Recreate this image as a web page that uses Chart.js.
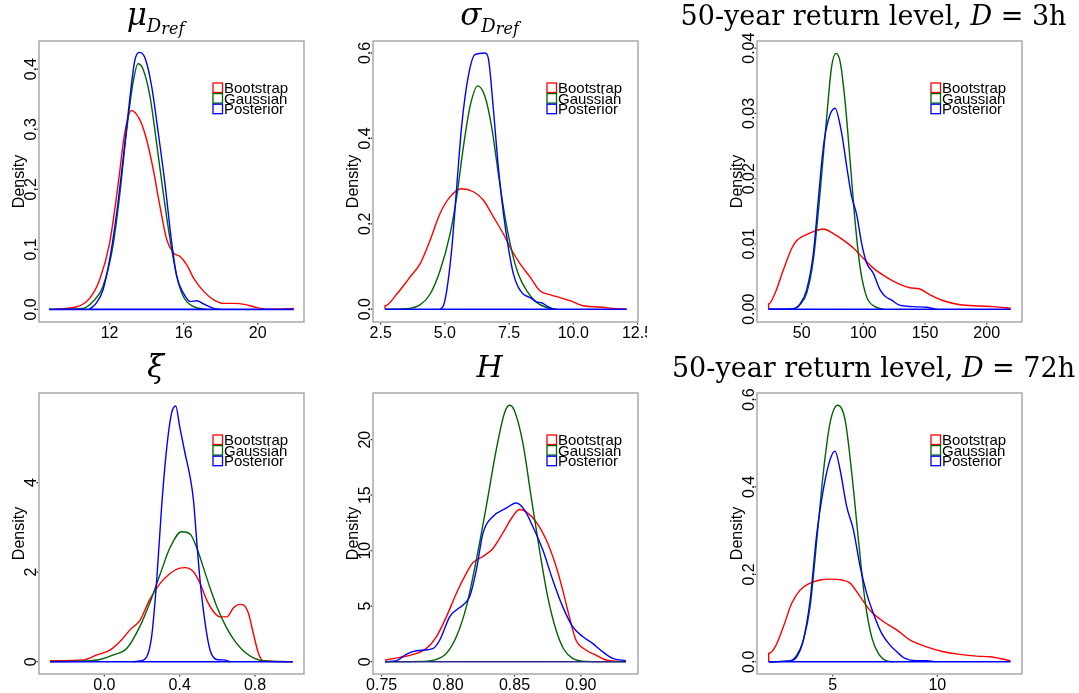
<!DOCTYPE html>
<html lang="en">
<head>
<meta charset="UTF-8">
<title>Density comparison</title>
<script src="https://cdn.jsdelivr.net/npm/chart.js"></script>
<style>
  * { margin: 0; padding: 0; box-sizing: border-box; }
  body { width: 1079px; height: 693px; background: #fff; position: relative; overflow: hidden; }
  canvas { position: absolute; }
</style>
</head>
<body>
<canvas id="pMu"></canvas>
<canvas id="pSigma"></canvas>
<canvas id="pRl3"></canvas>
<canvas id="pXi"></canvas>
<canvas id="pH"></canvas>
<canvas id="pRl72"></canvas>

<script>
// ---- data ----
const seriesNames = ['Bootstrap', 'Gaussian', 'Posterior'];

// mu_Dref
const muBootX = [8.73, 10.19, 10.91, 11.46, 12.0, 12.45, 12.82, 13.18, 13.63, 14.0, 14.36, 14.72, 15.09, 15.45, 15.81, 16.17, 16.54, 17.08, 17.63, 18.17, 18.71, 19.35, 19.89, 20.53, 21.26, 21.95];
const muBootY = [0, 0.004, 0.018, 0.049, 0.11, 0.205, 0.294, 0.331, 0.316, 0.283, 0.233, 0.172, 0.116, 0.094, 0.088, 0.074, 0.052, 0.03, 0.016, 0.010, 0.010, 0.008, 0.0035, 0.0005, 0.0005, 0.0017];
const muGaussX = [8.73, 10.55, 11.09, 11.64, 12.18, 12.54, 12.91, 13.27, 13.54, 13.81, 14.18, 14.54, 14.9, 15.27, 15.63, 15.99, 16.54, 17.26];
const muGaussY = [0, 0.0017, 0.0128, 0.038, 0.105, 0.188, 0.294, 0.378, 0.409, 0.4, 0.355, 0.277, 0.194, 0.116, 0.055, 0.021, 0.0045, 0];
const muPostX = [10.91, 11.27, 11.64, 12.0, 12.36, 12.73, 13.09, 13.36, 13.6, 13.91, 14.27, 14.63, 14.99, 15.36, 15.63, 15.99, 16.36, 16.72, 17.08, 17.63, 17.99];
const muPostY = [0, 0.01, 0.032, 0.082, 0.155, 0.25, 0.35, 0.414, 0.428, 0.419, 0.372, 0.294, 0.21, 0.11, 0.055, 0.027, 0.013, 0.0145, 0.009, 0.0017, 0];
const muBaseX = [8.73, 21.95];

// sigma_Dref
const sigBootX = [2.67, 2.67, 3.12, 3.64, 4.03, 4.42, 4.81, 5.20, 5.65, 6.11, 6.50, 6.89, 7.28, 7.54, 7.93, 8.32, 8.70, 9.09, 9.48, 9.87, 10.39, 11.04, 11.69, 12.08];
const sigBootY = [0, 0.008, 0.035, 0.075, 0.106, 0.161, 0.224, 0.263, 0.282, 0.275, 0.255, 0.216, 0.176, 0.145, 0.106, 0.075, 0.043, 0.034, 0.027, 0.02, 0.008, 0.005, 0.001, 0];
const sigGaussX = [2.67, 3.64, 4.03, 4.42, 4.81, 5.20, 5.46, 5.72, 5.98, 6.28, 6.56, 6.82, 7.08, 7.34, 7.60, 7.86, 8.19, 8.57, 8.96, 9.35];
const sigGaussY = [0, 0.002, 0.01, 0.035, 0.09, 0.176, 0.263, 0.38, 0.475, 0.523, 0.498, 0.427, 0.318, 0.216, 0.137, 0.082, 0.043, 0.016, 0.004, 0];
const sigPostX = [4.81, 4.94, 5.07, 5.26, 5.46, 5.65, 5.91, 6.17, 6.56, 6.69, 6.89, 7.08, 7.28, 7.47, 7.67, 7.86, 8.06, 8.32, 8.57, 8.77, 8.96, 9.22];
const sigPostY = [0, 0.008, 0.043, 0.137, 0.286, 0.427, 0.545, 0.596, 0.6, 0.588, 0.467, 0.333, 0.224, 0.145, 0.082, 0.051, 0.035, 0.027, 0.017, 0.015, 0.008, 0];
const sigBaseX = [2.67, 12.08];

// 50-year return level, D = 3h
const rl3BootX = [23.2, 23.2, 28.4, 35.1, 41.9, 45.9, 51.4, 59.5, 67.6, 75.7, 83.8, 91.9, 100.0, 108.1, 118.9, 129.7, 137.8, 145.9, 154.1, 164.9, 178.4, 194.6, 205.4, 219.5];
const rl3BootY = [0, 0.0008, 0.00245, 0.006, 0.0093, 0.0105, 0.0112, 0.0119, 0.0123, 0.0116, 0.0106, 0.0094, 0.0078, 0.0063, 0.0049, 0.0038, 0.0033, 0.0031, 0.0022, 0.0013, 0.0007, 0.0005, 0.0004, 0.00015];
const rl3GaussX = [23.2, 43.2, 48.6, 54.1, 59.5, 64.9, 70.3, 74.3, 77.8, 81.1, 85.1, 89.2, 93.2, 97.3, 102.7, 109.5, 116.2];
const rl3GaussY = [0, 0.0001, 0.0007, 0.0025, 0.0076, 0.0178, 0.0295, 0.0372, 0.0392, 0.038, 0.032, 0.0229, 0.0137, 0.0065, 0.0019, 0.0004, 0];
const rl3PostX = [23.2, 43.2, 48.6, 54.1, 59.5, 63.5, 67.6, 71.6, 77.0, 82.4, 86.5, 90.5, 94.6, 98.6, 102.7, 108.1, 113.5, 117.6, 123.0, 128.4, 140.5, 151.4, 159.5];
const rl3PostY = [0, 0.0001, 0.0008, 0.0030, 0.0086, 0.0168, 0.0249, 0.0290, 0.0308, 0.0270, 0.0219, 0.0173, 0.0145, 0.0101, 0.0071, 0.0055, 0.0030, 0.0020, 0.0014, 0.0007, 0.0004, 0.0003, 0];
const rl3BaseX = [23.2, 219.5];

// xi
const xiBootX = [-0.288, -0.11, -0.04, 0.03, 0.083, 0.136, 0.19, 0.24, 0.296, 0.349, 0.40, 0.428, 0.473, 0.508, 0.543, 0.579, 0.614, 0.65, 0.685, 0.72, 0.738, 0.765, 0.791, 0.818, 0.844, 1.0];
const xiBootY = [0.02, 0.04, 0.15, 0.26, 0.45, 0.71, 0.93, 1.38, 1.75, 1.97, 2.09, 2.10, 2.01, 1.75, 1.38, 1.12, 1.0, 1.0, 1.2, 1.28, 1.27, 1.08, 0.63, 0.19, 0.02, 0];
const xiGaussX = [-0.288, -0.11, -0.023, 0.048, 0.12, 0.19, 0.24, 0.296, 0.349, 0.41, 0.455, 0.49, 0.526, 0.561, 0.60, 0.65, 0.70, 0.75, 0.80, 0.862, 1.0];
const xiGaussY = [0, 0.015, 0.05, 0.15, 0.3, 0.8, 1.3, 1.95, 2.55, 2.9, 2.85, 2.55, 2.1, 1.65, 1.2, 0.75, 0.42, 0.2, 0.07, 0.01, 0];
const xiPostX = [0.15, 0.19, 0.225, 0.251, 0.278, 0.304, 0.33, 0.357, 0.379, 0.40, 0.428, 0.455, 0.473, 0.49, 0.508, 0.535, 0.561, 0.596, 0.632, 0.667];
const xiPostY = [0, 0.015, 0.11, 0.56, 1.82, 3.46, 4.73, 5.55, 5.71, 5.25, 4.66, 4.13, 3.61, 2.72, 1.82, 0.86, 0.26, 0.05, 0.04, 0];
const xiBaseX = [-0.288, 1.0];

// H
const hBootX = [0.7525, 0.7638, 0.7738, 0.7838, 0.7913, 0.7988, 0.8063, 0.8138, 0.8188, 0.8263, 0.8338, 0.8413, 0.8488, 0.8538, 0.8588, 0.8663, 0.8738, 0.8813, 0.8863, 0.8913, 0.8963, 0.9038, 0.9113, 0.9188, 0.9338];
const hBootY = [0.15, 0.39, 0.66, 1.2, 2.26, 4.06, 6.17, 7.97, 8.93, 9.47, 10.2, 11.6, 13.1, 13.7, 13.5, 12.6, 11.0, 8.6, 6.47, 4.06, 1.95, 1.05, 0.6, 0.15, 0];
const hGaussX = [0.7525, 0.7813, 0.7913, 0.7988, 0.8063, 0.8138, 0.8213, 0.8288, 0.8363, 0.8425, 0.8463, 0.85, 0.8563, 0.8625, 0.8688, 0.875, 0.8813, 0.8875, 0.8938, 0.9038, 0.9338];
const hGaussY = [0, 0.03, 0.2, 0.75, 2.26, 4.96, 9.17, 14.0, 19.1, 22.4, 23.1, 22.6, 19.7, 14.9, 10.1, 5.86, 2.86, 1.05, 0.3, 0.03, 0];
const hPostX = [0.7525, 0.7613, 0.7688, 0.7763, 0.7888, 0.7938, 0.8013, 0.8063, 0.8113, 0.8163, 0.8213, 0.8263, 0.8338, 0.8438, 0.8513, 0.8575, 0.8638, 0.8713, 0.8788, 0.8863, 0.8938, 0.9013, 0.9088, 0.9163, 0.9238, 0.9338];
const hPostY = [0, 0.09, 0.69, 0.99, 1.2, 1.95, 4.06, 4.66, 5.11, 5.86, 8.27, 11.58, 13.08, 13.83, 14.29, 13.68, 12.18, 10.08, 7.37, 4.96, 3.16, 2.26, 1.65, 0.9, 0.3, 0.09];
const hBaseX = [0.7525, 0.9338];

// 50-year return level, D = 72h
const rl72BootX = [1.94, 1.94, 2.25, 2.64, 3.04, 3.44, 3.92, 4.4, 4.87, 5.43, 5.83, 6.31, 6.78, 7.42, 8.06, 8.69, 9.49, 10.29, 11.08, 11.88, 12.52, 12.99, 13.5];
const rl72BootY = [0, 0.019, 0.034, 0.08, 0.134, 0.164, 0.18, 0.187, 0.189, 0.187, 0.18, 0.149, 0.118, 0.092, 0.073, 0.05, 0.034, 0.023, 0.017, 0.013, 0.0115, 0.0076, 0.0023];
const rl72GaussX = [1.94, 2.96, 3.28, 3.6, 3.92, 4.24, 4.55, 4.87, 5.24, 5.59, 5.91, 6.23, 6.54, 6.86, 7.18, 7.58, 7.9];
const rl72GaussY = [0, 0.002, 0.015, 0.05, 0.126, 0.279, 0.432, 0.546, 0.587, 0.554, 0.432, 0.279, 0.141, 0.057, 0.019, 0.002, 0];
const rl72PostX = [1.94, 2.96, 3.28, 3.6, 3.92, 4.24, 4.55, 4.87, 5.11, 5.35, 5.67, 5.99, 6.31, 6.62, 6.94, 7.34, 7.74, 8.06, 8.46, 9.01, 9.49, 9.97];
const rl72PostY = [0, 0.002, 0.011, 0.05, 0.141, 0.294, 0.394, 0.462, 0.482, 0.44, 0.355, 0.302, 0.218, 0.157, 0.111, 0.065, 0.038, 0.023, 0.0076, 0.0023, 0.0023, 0];
const rl72BaseX = [1.94, 13.5];

// tick values and labels
const muXTicks = [12, 16, 20];
const muYTicks = [0, 0.1, 0.2, 0.3, 0.4];
const muYLabels = ['0.0', '0.1', '0.2', '0.3', '0.4'];
const sigXTicks = [2.5, 5.0, 7.5, 10.0, 12.5];
const sigXLabels = ['2.5', '5.0', '7.5', '10.0', '12.5'];
const sigYTicks = [0, 0.2, 0.4, 0.6];
const sigYLabels = ['0.0', '0.2', '0.4', '0.6'];
const rl3XTicks = [50, 100, 150, 200];
const rl3YTicks = [0, 0.01, 0.02, 0.03, 0.04];
const rl3YLabels = ['0.00', '0.01', '0.02', '0.03', '0.04'];
const xiXTicks = [0.0, 0.4, 0.8];
const xiXLabels = ['0.0', '0.4', '0.8'];
const xiYTicks = [0, 2, 4];
const hXTicks = [0.75, 0.80, 0.85, 0.90];
const hXLabels = ['0.75', '0.80', '0.85', '0.90'];
const hYTicks = [0, 5, 10, 15, 20];
const rl72XTicks = [5, 10];
const rl72YTicks = [0, 0.2, 0.4, 0.6];
const rl72YLabels = ['0.0', '0.2', '0.4', '0.6'];

// ---- drawing ----
const colors = ['#ff0000', '#006400', '#0000ff'];
const sansFont = '"Liberation Sans", Arial, sans-serif';
const serifFont = '"DejaVu Serif", serif';

const pts = (xs, ys) => xs.map((x, i) => ({ x: x, y: ys[i] }));

// box, tiny ticks, rotated y labels, legend and the LaTeX-like title
const panelDecor = {
    id: 'panelDecor',
    afterDatasetsDraw(chart, args, o) {
        const { ctx, chartArea: a, scales: { x, y } } = chart;
        ctx.save();
        ctx.strokeStyle = '#9c9c9c';
        ctx.lineWidth = 1.3;
        ctx.strokeRect(a.left, a.top, a.right - a.left, a.bottom - a.top);

        ctx.fillStyle = '#000';
        ctx.strokeStyle = '#333';
        ctx.lineWidth = 1.2;
        ctx.font = '16px ' + sansFont;
        ctx.textAlign = 'center';
        ctx.textBaseline = 'alphabetic';
        o.xTicks.forEach((v, i) => {
            const px = x.getPixelForValue(v);
            ctx.beginPath(); ctx.moveTo(px, a.bottom + 1); ctx.lineTo(px, a.bottom + 2.5); ctx.stroke();
            ctx.fillText(o.xLabels[i], px, a.bottom + 16);
        });
        o.yTicks.forEach((v, i) => {
            const py = y.getPixelForValue(v);
            ctx.beginPath(); ctx.moveTo(a.left - 1, py); ctx.lineTo(a.left - 2.5, py); ctx.stroke();
            ctx.save();
            ctx.translate(a.left - 3, py);
            ctx.rotate(-Math.PI / 2);
            ctx.fillText(o.yLabels[i], 0, 0);
            ctx.restore();
        });

        // axis title
        ctx.save();
        ctx.font = '16px ' + sansFont;
        ctx.translate(a.left - 15, (a.top + a.bottom) / 2);
        ctx.rotate(-Math.PI / 2);
        ctx.fillText('Density', 0, 0);
        ctx.restore();

        // legend
        ctx.font = '15px ' + sansFont;
        ctx.textAlign = 'left';
        seriesNames.forEach((name, i) => {
            const sx = a.right - 91, sy = a.top + 42 + i * 10.6;
            ctx.strokeStyle = colors[i];
            ctx.lineWidth = 1.3;
            ctx.strokeRect(sx, sy, 9.5, 9.5);
            ctx.fillStyle = '#000';
            ctx.fillText(name, sx + 11, sy + 10);
        });

        // title made of pieces (roman / italic, sub and sub-sub scripts)
        let total = 0;
        const parts = o.title.map(p => {
            const f = (p.it ? 'italic ' : '') + p.size + 'px ' + serifFont;
            ctx.font = f;
            const w = ctx.measureText(p.t).width;
            total += w;
            return { f, w, t: p.t, dy: p.dy || 0 };
        });
        let tx = (a.left + a.right) / 2 - 16 - total / 2;
        const ty = a.top - 16;
        parts.forEach(p => {
            ctx.font = p.f;
            ctx.fillText(p.t, tx, ty + p.dy);
            tx += p.w;
        });
        ctx.restore();
    }
};

function makePanel(id, cv, box, xr, yr, curves, baseX, baseColor, deco) {
    const el = document.getElementById(id);
    el.width = cv[2]; el.height = cv[3];
    el.style.left = cv[0] + 'px'; el.style.top = cv[1] + 'px';
    const sets = curves.map((c, i) => ({
        label: seriesNames[i],
        data: pts(c[0], c[1]),
        borderColor: colors[i],
        borderWidth: 1.4,
        order: 4 - i
    }));
    sets.push({ label: 'zero', data: pts(baseX, [0, 0]), borderColor: baseColor, borderWidth: 1.6, order: 0 });
    return new Chart(el, {
        type: 'line',
        data: { datasets: sets },
        options: {
            responsive: false,
            animation: false,
            devicePixelRatio: 1,
            events: [],
            layout: { padding: { left: box[0] - cv[0], top: box[1] - cv[1], right: cv[0] + cv[2] - box[2], bottom: cv[1] + cv[3] - box[3] } },
            elements: { point: { radius: 0 }, line: { cubicInterpolationMode: 'monotone', fill: false } },
            scales: {
                x: { type: 'linear', display: false, min: xr[0], max: xr[1] },
                y: { type: 'linear', display: false, min: yr[0], max: yr[1] }
            },
            plugins: { legend: { display: false }, tooltip: { enabled: false }, panelDecor: deco }
        },
        plugins: [panelDecor]
    });
}

makePanel('pMu', [0, 0, 340, 345], [39, 41, 304, 322], [8.19, 22.5], [-0.021, 0.447],
    [[muBootX, muBootY], [muGaussX, muGaussY], [muPostX, muPostY]], muBaseX, '#0000ff',
    { xTicks: muXTicks, xLabels: muXTicks.map(String), yTicks: muYTicks, yLabels: muYLabels,
      title: [{ t: 'μ', size: 31, it: true }, { t: 'D', size: 18, it: true, dy: 7 }, { t: 'ref', size: 16, it: true, dy: 9 }] });

makePanel('pSigma', [340, 0, 307, 345], [373, 41, 638, 322], [2.2, 12.52], [-0.03, 0.628],
    [[sigBootX, sigBootY], [sigGaussX, sigGaussY], [sigPostX, sigPostY]], sigBaseX, '#0000ff',
    { xTicks: sigXTicks, xLabels: sigXLabels, yTicks: sigYTicks, yLabels: sigYLabels,
      title: [{ t: 'σ', size: 31, it: true }, { t: 'D', size: 18, it: true, dy: 7 }, { t: 'ref', size: 16, it: true, dy: 9 }] });

makePanel('pRl3', [647, 0, 432, 345], [757, 41, 1022, 322], [13.8, 228.6], [-0.00195, 0.0411],
    [[rl3BootX, rl3BootY], [rl3GaussX, rl3GaussY], [rl3PostX, rl3PostY]], rl3BaseX, '#0000ff',
    { xTicks: rl3XTicks, xLabels: rl3XTicks.map(String), yTicks: rl3YTicks, yLabels: rl3YLabels,
      title: [{ t: '50-year return level, ', size: 27 }, { t: 'D', size: 27, it: true }, { t: ' = 3h', size: 27 }] });

makePanel('pXi', [0, 345, 340, 348], [39, 393, 304, 674], [-0.347, 1.06], [-0.275, 6.0],
    [[xiBootX, xiBootY], [xiGaussX, xiGaussY], [xiPostX, xiPostY]], xiBaseX, '#0000ff',
    { xTicks: xiXTicks, xLabels: xiXLabels, yTicks: xiYTicks, yLabels: xiYTicks.map(String),
      title: [{ t: 'ξ', size: 31, it: true }] });

makePanel('pH', [340, 345, 307, 348], [373, 393, 638, 674], [0.7435, 0.943], [-1.11, 24.2],
    [[hBootX, hBootY], [hGaussX, hGaussY], [hPostX, hPostY]], hBaseX, '#2a2a8c',
    { xTicks: hXTicks, xLabels: hXLabels, yTicks: hYTicks, yLabels: hYTicks.map(String),
      title: [{ t: 'H', size: 30, it: true }] });

makePanel('pRl72', [647, 345, 432, 348], [757, 393, 1022, 674], [1.38, 14.05], [-0.028, 0.615],
    [[rl72BootX, rl72BootY], [rl72GaussX, rl72GaussY], [rl72PostX, rl72PostY]], rl72BaseX, '#0000ff',
    { xTicks: rl72XTicks, xLabels: rl72XTicks.map(String), yTicks: rl72YTicks, yLabels: rl72YLabels,
      title: [{ t: '50-year return level, ', size: 27 }, { t: 'D', size: 27, it: true }, { t: ' = 72h', size: 27 }] });
</script>
</body>
</html>
